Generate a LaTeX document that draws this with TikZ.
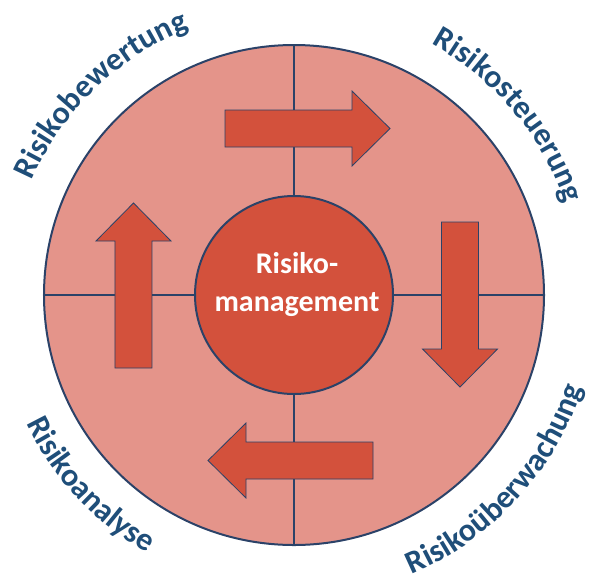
\documentclass[tikz,border=0pt]{standalone}
\usepackage{fontspec}
\setmainfont{Carlito}
\usepackage{xcolor}
\usepackage{tikz}
\usetikzlibrary{decorations.text}

\definecolor{rand}{HTML}{2B4268}
\definecolor{hell}{HTML}{E4948A}
\definecolor{dunkel}{HTML}{D3513C}
\definecolor{schrift}{HTML}{1F4E79}

\begin{document}
\begin{tikzpicture}[x=1pt,y=1pt,
  kreis/.style={circle,draw=rand,line width=2pt,inner sep=0pt},
  trenner/.style={draw=rand,line width=1.4pt},
  pfeilstil/.style={fill=dunkel,draw=rand,line width=0.8pt},
  pfeil/.pic={\draw[pfeilstil] (0,-18.5) -- (127,-18.5) -- (127,-37.5) -- (165,0)
    -- (127,37.5) -- (127,18.5) -- (0,18.5) -- cycle;},
  bogen/.style={decorate,decoration={text along path,text align=center,
    text={|\bfseries\fontsize{32}{38}\selectfont\color{schrift}|#1}}}]
  \useasboundingbox (-294,-287) rectangle (307,295);
  % Ring mit den vier Phasen
  \node[kreis,fill=hell,minimum size=500pt] (aussen) at (0,0) {};
  \node[kreis,fill=dunkel,minimum size=198pt] (kern) at (0,0) {};
  \draw[trenner] (kern.north) -- (aussen.north);
  \draw[trenner] (kern.south) -- (aussen.south);
  \draw[trenner] (kern.east) -- (aussen.east);
  \draw[trenner] (kern.west) -- (aussen.west);
  \node[text=white,align=center,font=\bfseries\fontsize{30}{38}\selectfont]
    (titel) at (3,10) {Risiko-\\management};
  % Pfeile im Uhrzeigersinn
  \pic (oben) at (-69,166.5) {pfeil};
  \pic[rotate=-90] (rechts) at (166,73) {pfeil};
  \pic[rotate=180] (unten) at (79,-165.5) {pfeil};
  \pic[rotate=90] (links) at (-160.5,-73) {pfeil};
  % Beschriftung am Rand
  \path[bogen=Risikobewertung] (166:286) arc[start angle=166,end angle=102,radius=286];
  \path[bogen=Risikosteuerung] (72:286) arc[start angle=72,end angle=8,radius=286];
  \path[bogen=Risikoanalyse] (189:297) arc[start angle=189,end angle=257,radius=297];
  \path[bogen=Risikoüberwachung] (280:303) arc[start angle=280,end angle=355,radius=303];
\end{tikzpicture}
\end{document}
